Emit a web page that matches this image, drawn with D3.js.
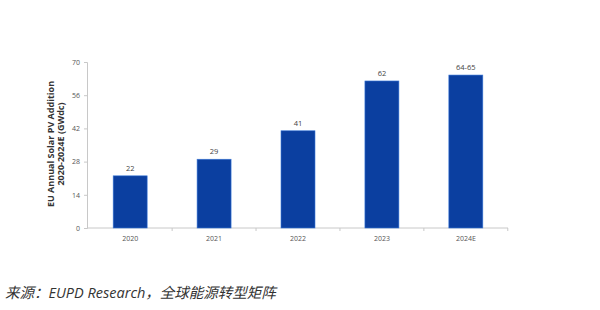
<!DOCTYPE html>
<html>
<head>
<meta charset="utf-8">
<script src="https://cdn.jsdelivr.net/npm/d3@7"></script>
<style>
  body { margin: 0; background: #fff; }
  svg { display: block; }
</style>
</head>
<body>
<svg width="600" height="310"></svg>
<script>
let years = ['2020', '2021', '2022', '2023', '2024E'];
let values = [22, 29, 41, 62, 64.5];
let labels = ['22', '29', '41', '62', '64-65'];
let yTicks = [0, 14, 28, 42, 56, 70];

let svg = d3.select('svg');
let margin = { top: 62, right: 92, bottom: 82, left: 88 };
let width = +svg.attr('width');
let height = +svg.attr('height');

let x = d3.scaleBand()
    .domain(years)
    .range([margin.left, width - margin.right])
    .paddingInner(0.595)
    .paddingOuter(0.3);

let y = d3.scaleLinear()
    .domain([0, 70])
    .range([height - margin.bottom, margin.top]);

// y axis
let yAxis = svg.append('g')
    .attr('transform', 'translate(' + (margin.left - 1) + ',0)')
    .call(d3.axisLeft(y).tickValues(yTicks).tickSize(3).tickPadding(4));
yAxis.select('.domain').attr('stroke', '#c8c8c8');
yAxis.selectAll('.tick line').attr('stroke', '#c8c8c8');
yAxis.selectAll('text').attr('fill', '#555').style('font-size', '7px')
    .style('font-family', '"Open Sans", sans-serif');

// x axis with ticks at band boundaries
let xg = svg.append('g')
    .attr('transform', 'translate(0,' + y(0) + ')');
xg.append('line')
    .attr('x1', margin.left - 1).attr('x2', width - margin.right)
    .attr('stroke', '#c8c8c8');
let step = x.step();
let bounds = years.map(d => x(d) - step * x.paddingInner() / 2 + step);
xg.selectAll('.bt')
    .data(bounds)
    .enter().append('line')
    .attr('x1', d => d).attr('x2', d => d)
    .attr('y1', 0).attr('y2', 3)
    .attr('stroke', '#c8c8c8');
xg.selectAll('.xl')
    .data(years)
    .enter().append('text')
    .attr('x', d => x(d) + x.bandwidth() / 2)
    .attr('y', 13)
    .attr('text-anchor', 'middle')
    .attr('fill', '#555')
    .style('font-size', '7px')
    .style('font-family', '"Open Sans", sans-serif')
    .text(d => d);

// bars
svg.selectAll('.bar')
    .data(values)
    .enter().append('rect')
    .attr('x', (d, i) => x(years[i]))
    .attr('y', d => y(d))
    .attr('width', x.bandwidth())
    .attr('height', d => y(0) - y(d))
    .attr('fill', '#0b3fa0')
    .attr('stroke', '#3b78d8')
    .attr('stroke-width', 0.6);

// value labels
svg.selectAll('.val')
    .data(values)
    .enter().append('text')
    .attr('x', (d, i) => x(years[i]) + x.bandwidth() / 2)
    .attr('y', d => y(d) - 5)
    .attr('text-anchor', 'middle')
    .attr('fill', '#444')
    .style('font-size', '7.5px')
    .style('font-family', '"Open Sans", sans-serif')
    .text((d, i) => labels[i]);

// y title
let yt = svg.append('text')
    .attr('transform', 'translate(54,' + ((y(0) + y(70)) / 2 - 1) + ') rotate(-90)')
    .attr('text-anchor', 'middle')
    .attr('fill', '#333')
    .style('font-size', '9px')
    .style('font-weight', 'bold')
    .style('font-family', '"Open Sans", sans-serif');
yt.append('tspan').attr('x', 0).attr('dy', 0).text('EU Annual Solar PV Addition');
yt.append('tspan').attr('x', 0).attr('dy', 10).text('2020-2024E  (GWdc)');

// source caption
svg.append('text')
    .attr('x', 5)
    .attr('y', 298)
    .attr('fill', '#333')
    .style('font-size', '14.5px')
    .style('font-style', 'italic')
    .style('font-family', '"Open Sans", "Noto Sans CJK SC", sans-serif')
    .text('来源：EUPD Research，全球能源转型矩阵');
</script>
</body>
</html>
